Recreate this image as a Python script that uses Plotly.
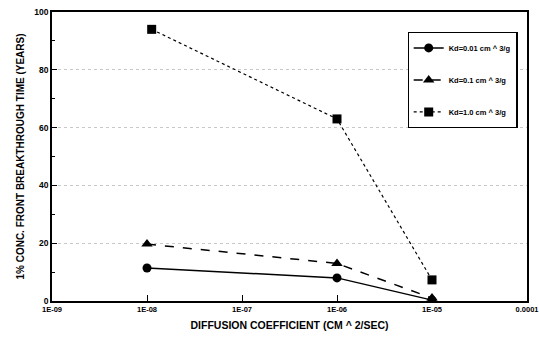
import plotly.graph_objects as go

diffusion = [1e-8, 1e-6, 1e-5]
kd001 = [11.4, 8.0, 0.3]
kd01 = [19.7, 13.0, 1.0]
diffusion_kd1 = [1.12e-8, 1e-6, 1e-5]
kd1 = [94.0, 63.0, 7.3]

x_tickvals = [1e-9, 1e-8, 1e-7, 1e-6, 1e-5, 1e-4]
x_ticktext = ["1E-09", "1E-08", "1E-07", "1E-06", "1E-05", "0.0001"]
y_tickvals = [0, 20, 40, 60, 80, 100]
y_ticktext = ["0", "20", "40", "60", "80", "100"]

font = "Liberation Sans, Arial, sans-serif"

fig = go.Figure()
fig.add_trace(go.Scatter(x=diffusion, y=kd001, mode="lines+markers",
                         name="<b>Kd=0.01 cm ^ 3/g</b>", legendgroup="a",
                         line=dict(color="black", width=1.5, dash="solid"),
                         marker=dict(symbol="circle", size=9, color="black")))
fig.add_trace(go.Scatter(x=diffusion, y=kd01, mode="lines+markers",
                         name="<b>Kd=0.1 cm ^ 3/g</b>", legendgroup="b",
                         line=dict(color="black", width=1.5, dash="dash"),
                         marker=dict(symbol="triangle-up", size=10, color="black")))
fig.add_trace(go.Scatter(x=diffusion_kd1, y=kd1, mode="lines+markers",
                         name="<b>Kd=1.0 cm ^ 3/g</b>", legendgroup="c",
                         line=dict(color="black", width=1.2, dash="dot"),
                         marker=dict(symbol="square", size=9, color="black")))

fig.update_layout(
    width=539, height=341,
    margin=dict(l=52, r=12, t=12, b=40),
    paper_bgcolor="white", plot_bgcolor="white",
    font=dict(family=font, color="black", size=9),
    legend=dict(x=0.98, y=0.93, xanchor="right", yanchor="top",
                bordercolor="black", borderwidth=1.2, bgcolor="white",
                font=dict(size=7.5), tracegroupgap=13, itemwidth=30),
    xaxis=dict(type="log", range=[-9, -4], tickvals=x_tickvals,
               ticktext=["<b>%s</b>" % t for t in x_ticktext],
               ticks="inside", ticklen=6, tickcolor="black",
               showline=True, linecolor="black", linewidth=1.5, mirror=True,
               showgrid=False, zeroline=False, automargin=False,
               ticklabeloverflow="allow",
               tickfont=dict(size=7.5),
               title=dict(text="<b>DIFFUSION COEFFICIENT (CM ^ 2/SEC)</b>",
                          font=dict(size=10.5), standoff=9)),
    yaxis=dict(range=[0, 100], tickvals=y_tickvals,
               ticktext=["<b>%s</b>" % t for t in y_ticktext],
               ticks="inside", ticklen=5, tickcolor="black",
               minor=dict(dtick=10, ticks="inside", ticklen=3, tickcolor="black"),
               showline=True, linecolor="black", linewidth=1.5, mirror=True,
               showgrid=True, gridcolor="#c8c8c8", griddash="dot", gridwidth=1,
               zeroline=False, automargin=False, ticklabeloverflow="allow",
               tickfont=dict(size=8.5),
               title=dict(text="<b>1% CONC. FRONT BREAKTHROUGH TIME (YEARS)</b>",
                          font=dict(size=10), standoff=8)),
)

fig.write_html("out.html", config={"displayModeBar": False},
               post_script="document.body.style.margin='0';document.body.style.overflow='hidden';")
